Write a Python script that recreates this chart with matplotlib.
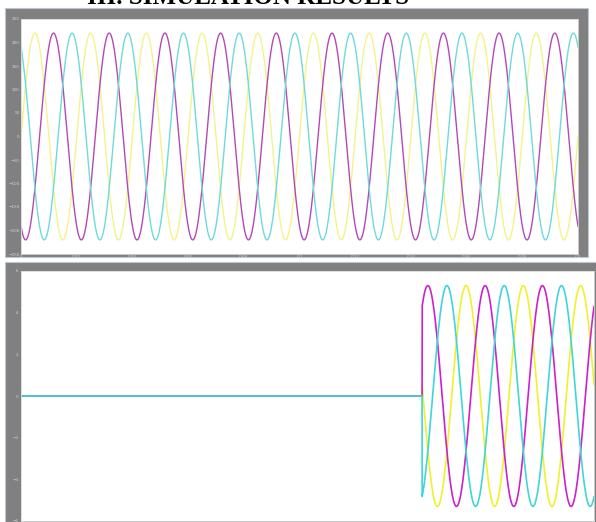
import numpy as np
import matplotlib
matplotlib.use('Agg')
import matplotlib.pyplot as plt
from matplotlib.patches import Rectangle

# ---- values ----
freq = 50.0                      # Hz, 10 cycles across 0..0.2 s
t_end = 0.2

# top panel: supply voltages
top_amp = 220.0
top_phase_deg = {'yellow': 0.0, 'magenta': -120.0, 'cyan': 120.0}
top_yticks = [-250, -200, -150, -100, -50, 0, 50, 100, 150, 200, 250]
top_xticks = [0, 0.02, 0.04, 0.06, 0.08, 0.1, 0.12, 0.14, 0.16, 0.18, 0.2]
top_xlabels = ['0', '0.02', '0.04', '0.06', '0.08', '0.1', '0.12', '0.14', '0.16', '0.18', '0.2']

# bottom panel: currents switched on at t_on
bot_amp = 5.3
t_on = 0.14
bot_phase_deg = {'yellow': 174.0, 'magenta': 54.0, 'cyan': -66.0}
bot_yticks = [-6, -4, -2, 0, 2, 4, 6]

colors_top = {'yellow': '#f3f38a', 'magenta': '#b548b8', 'cyan': '#6fdada'}
colors_bot = {'yellow': '#f0f030', 'magenta': '#cc22cc', 'cyan': '#40d6d6'}

W, H = 596, 522
fig = plt.figure(figsize=(W / 100, H / 100), dpi=100)
fig.patch.set_facecolor('white')


def px_rect(x0, y0, x1, y1):
    # pixel box (top-left origin) -> figure fraction [l, b, w, h]
    return [x0 / W, 1 - y1 / H, (x1 - x0) / W, (y1 - y0) / H]


# gray frames behind the plot areas
for box in [(5, 8, 588, 257), (5, 262, 600, 525)]:
    l, b, w, h = px_rect(*box)
    fig.add_artist(Rectangle((l, b), w, h, transform=fig.transFigure,
                             facecolor='#808080', edgecolor='#b9c7d6',
                             linewidth=0.8, zorder=-5))

# heading is cut by the top edge, as in the source page
fig.text(248 / W, 1 - 4 / H, 'III. SIMULATION RESULTS', ha='center', va='baseline',
         fontsize=18, fontweight='bold', family='Liberation Serif', color='black')

t = np.linspace(0, t_end, 6000)
w = 2 * np.pi * freq

# ---- top panel ----
ax1 = fig.add_axes(px_rect(21, 19, 578, 254))
for name in ['yellow', 'magenta', 'cyan']:
    y = top_amp * np.sin(w * t + np.deg2rad(top_phase_deg[name]))
    ax1.plot(t, y, color=colors_top[name], linewidth=1.0)
ax1.set_xlim(0, t_end)
ax1.set_ylim(-250, 250)
ax1.set_yticks(top_yticks)
ax1.set_xticks(top_xticks)
ax1.set_xticklabels(top_xlabels)
ax1.tick_params(axis='both', length=0, labelsize=3, labelcolor='#d4d4d4', pad=1)

# ---- bottom panel ----
ax2 = fig.add_axes(px_rect(21, 271, 594, 521))
on = t >= t_on
for name in ['yellow', 'magenta', 'cyan']:
    y = np.where(on, bot_amp * np.sin(w * t + np.deg2rad(bot_phase_deg[name])), 0.0)
    ax2.plot(t, y, color=colors_bot[name], linewidth=1.2)
ax2.set_xlim(0, t_end)
ax2.set_ylim(-6, 6)
ax2.set_yticks(bot_yticks)
ax2.set_xticks([])
ax2.tick_params(axis='both', length=0, labelsize=3, labelcolor='#d4d4d4', pad=2)

for ax in (ax1, ax2):
    ax.set_facecolor('white')
    for s in ax.spines.values():
        s.set_color('#d8d8d8')
        s.set_linewidth(0.6)

fig.savefig('out.png', dpi=100)
